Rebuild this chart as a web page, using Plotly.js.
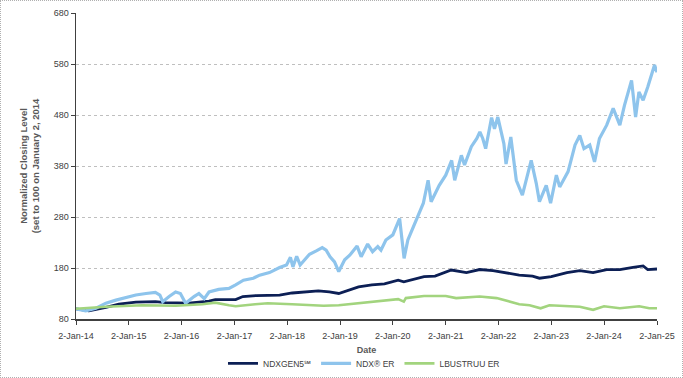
<!DOCTYPE html>
<html>
<head>
<meta charset="utf-8">
<script src="https://cdn.plot.ly/plotly-3.0.1.min.js"></script>
<style>
  html, body { margin: 0; padding: 0; background: #fff; }
  #wrap { position: relative; width: 683px; height: 378px; }
  #chart { width: 683px; height: 378px; }
  #frame { position: absolute; left: 0; top: 0; width: 681px; height: 376px; border: 1px dotted #b0b0b0; pointer-events: none; }
</style>
</head>
<body>
<div id="wrap"><div id="chart"></div><div id="frame"></div></div>
<script>
// NDXGEN5 (navy)
const genDates = ["2014-01-02","2014-04-01","2014-07-28","2014-10-25","2015-02-20","2015-07-05","2015-09-15","2016-01-02","2016-02-20","2016-07-10","2016-08-22","2017-01-10","2017-03-01","2017-06-01","2017-11-10","2018-02-05","2018-08-05","2018-10-20","2018-12-24","2019-05-10","2019-08-10","2019-11-05","2020-02-08","2020-03-18","2020-08-05","2020-10-20","2021-02-10","2021-05-25","2021-08-25","2021-11-25","2022-02-23","2022-05-25","2022-08-25","2022-10-12","2023-01-02","2023-04-20","2023-07-18","2023-10-18","2024-01-20","2024-04-20","2024-07-20","2024-09-28","2024-10-30","2025-01-02"];
const genValues = [100,96,103,109,113,114,112,112,111,115,118,118,124,126,127,131,135,133,130,143,147,149,156,153,163,164,176,171,177,175,171,166,164,160,163,171,175,171,177,177,181,184,177,178];

// NDX ER (light blue)
const ndxDates = ["2014-01-02","2014-03-10","2014-05-20","2014-07-28","2014-10-05","2014-12-15","2015-02-20","2015-05-01","2015-07-05","2015-08-05","2015-08-25","2015-10-08","2015-11-22","2015-12-25","2016-01-30","2016-03-28","2016-05-01","2016-06-07","2016-07-10","2016-09-15","2016-11-25","2017-01-10","2017-03-05","2017-05-12","2017-06-25","2017-09-01","2017-11-10","2017-12-28","2018-01-24","2018-02-10","2018-03-08","2018-04-01","2018-06-05","2018-07-25","2018-09-01","2018-09-28","2018-10-25","2018-11-25","2018-12-24","2019-02-03","2019-03-10","2019-04-30","2019-05-28","2019-07-12","2019-08-15","2019-09-20","2019-10-12","2019-11-15","2020-01-02","2020-02-18","2020-03-20","2020-04-15","2020-05-22","2020-07-31","2020-09-02","2020-09-23","2020-11-18","2021-01-02","2021-02-12","2021-03-05","2021-04-20","2021-05-12","2021-06-28","2021-08-05","2021-08-26","2021-09-15","2021-10-05","2021-11-15","2021-12-05","2021-12-28","2022-02-08","2022-02-23","2022-03-28","2022-05-05","2022-06-16","2022-07-08","2022-08-16","2022-09-20","2022-10-12","2022-11-28","2022-12-28","2023-02-06","2023-03-01","2023-04-28","2023-06-15","2023-07-18","2023-08-16","2023-09-25","2023-10-28","2023-12-01","2024-01-20","2024-03-05","2024-04-20","2024-05-22","2024-07-10","2024-08-07","2024-08-30","2024-09-28","2024-10-30","2024-12-16","2025-01-02"];
const ndxValues = [100,96,101,111,117,122,127,130,132,127,114,124,133,130,111,124,130,120,133,138,140,147,156,160,166,171,181,186,201,182,203,186,207,214,220,215,202,192,173,196,205,223,202,227,212,222,215,235,245,277,199,235,261,307,352,310,342,362,391,352,401,382,418,434,447,434,414,475,453,476,424,384,437,352,323,346,391,346,310,342,307,362,339,369,421,440,414,421,388,434,460,493,460,499,548,476,525,509,535,578,564];

// LBUSTRUU ER (green)
const aggDates = ["2014-01-02","2014-07-28","2015-04-05","2015-11-22","2016-05-25","2016-08-22","2016-11-25","2017-01-10","2017-05-25","2017-08-20","2018-02-05","2018-09-10","2018-12-24","2019-05-10","2019-09-25","2020-02-08","2020-03-18","2020-04-01","2020-08-05","2021-01-02","2021-03-15","2021-08-25","2021-12-20","2022-02-23","2022-05-25","2022-08-05","2022-10-20","2022-12-20","2023-04-20","2023-07-18","2023-10-18","2024-01-02","2024-04-20","2024-09-01","2024-11-10","2025-01-02"];
const aggValues = [100,104,107,106,109,112,107,105,109,111,109,106,107,111,116,119,114,121,125,125,121,124,121,116,109,107,101,107,105,104,98,105,101,105,101,101];

const tickDates = ["2014-01-02","2015-01-02","2016-01-02","2017-01-02","2018-01-02","2019-01-02","2020-01-02","2021-01-02","2022-01-02","2023-01-02","2024-01-02","2025-01-02"];
const tickLabels = ["2-Jan-14","2-Jan-15","2-Jan-16","2-Jan-17","2-Jan-18","2-Jan-19","2-Jan-20","2-Jan-21","2-Jan-22","2-Jan-23","2-Jan-24","2-Jan-25"];
const seriesNames = ["NDXGEN5\u2120", "NDX\u00AE ER", "LBUSTRUU ER"];

const font = "Liberation Sans, Arial, sans-serif";

const traces = [
  { x: genDates, y: genValues, name: seriesNames[0], type: "scatter", mode: "lines",
    line: { color: "#0c1f55", width: 2.8 } },
  { x: ndxDates, y: ndxValues, name: seriesNames[1], type: "scatter", mode: "lines",
    line: { color: "#8ec4ec", width: 3.2 } },
  { x: aggDates, y: aggValues, name: seriesNames[2], type: "scatter", mode: "lines",
    line: { color: "#a2d47e", width: 2.6 } }
];

const layout = {
  width: 683, height: 378,
  margin: { l: 76, r: 26, t: 13, b: 59, autoexpand: false },
  paper_bgcolor: "#ffffff", plot_bgcolor: "#ffffff",
  font: { family: font, size: 9, color: "#404040" },
  showlegend: true,
  legend: { orientation: "h", x: 0.253, xanchor: "left", y: -0.145, yanchor: "middle",
            font: { family: font, size: 8.5, color: "#404040" }, itemwidth: 30, tracegroupgap: 0 },
  xaxis: {
    type: "date",
    range: ["2014-01-02", "2025-01-02"],
    tickmode: "array", tickvals: tickDates, ticktext: tickLabels,
    showgrid: false, zeroline: false,
    showline: true, linecolor: "#404040", linewidth: 1.5,
    ticks: "outside", ticklen: 4, tickcolor: "#404040", ticklabelstandoff: 4,
    tickfont: { family: font, size: 9, color: "#404040" },
    title: { text: "<b>Date</b>", font: { family: font, size: 9, color: "#595959" }, standoff: 6 }
  },
  yaxis: {
    range: [80, 680], dtick: 100, tick0: 80,
    showgrid: true, gridcolor: "#bfbfbf", gridwidth: 1, griddash: "dot",
    zeroline: false,
    showline: true, linecolor: "#404040", linewidth: 1.5,
    ticks: "outside", ticklen: 4, tickcolor: "#404040",
    tickfont: { family: font, size: 9, color: "#404040" },
    title: { text: "<b>Normalized Closing Level</b><br><b>(set to 100 on January 2, 2014</b>",
             font: { family: font, size: 9.5, color: "#595959" }, standoff: 12 }
  }
};

Plotly.newPlot("chart", traces, layout, { displayModeBar: false, staticPlot: true });
</script>
</body>
</html>
